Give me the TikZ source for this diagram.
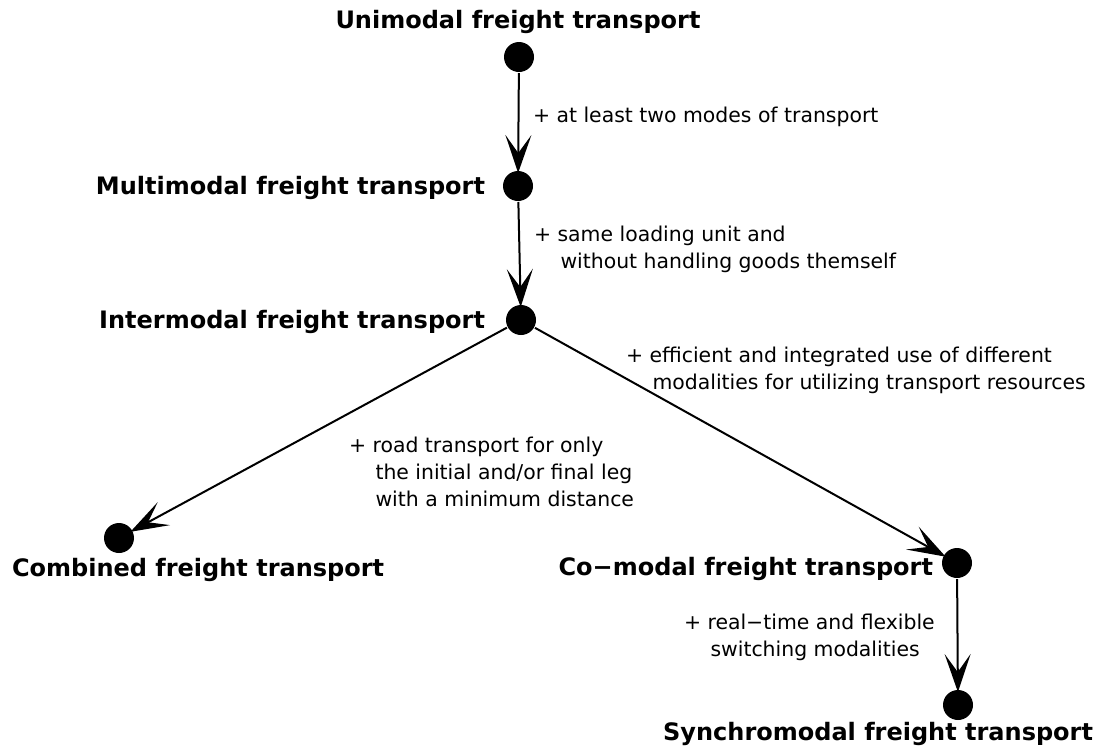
\documentclass[tikz,border=0pt]{standalone}
\usepackage{fontspec}
\setmainfont{DejaVu Sans}
\usetikzlibrary{arrows.meta}

\begin{document}
\begin{tikzpicture}[x=0.5pt, y=-0.5pt, -{Stealth[length=19pt,width=13pt,inset=9pt]}, line width=1pt,
      shorten >=-1.5pt, every node/.append style={inner sep=0pt}]
    \tikzstyle{dot} = [circle,fill=black,minimum size=15pt]
    \tikzstyle{mode} = [font=\fontsize{12}{14}\selectfont\bfseries]
    \tikzstyle{gain} = [font=\fontsize{10.2}{13.4}\selectfont,align=left]
    \useasboundingbox (0,0) rectangle (1105,751);
    % the modes
    \node (uni) [dot] at (519,57) {};
    \node (multi) [dot] at (518,186) {};
    \node (inter) [dot] at (521,320) {};
    \node (comb) [dot] at (119,538) {};
    \node (comod) [dot] at (957,563) {};
    \node (sync) [dot] at (958,705) {};
    \node [mode,anchor=base] (uni_word) at (518,28) {Unimodal freight transport};
    \node [mode,anchor=base east] (multi_word) at (486,194) {Multimodal freight transport};
    \node [mode,anchor=base east] (inter_word) at (486,328) {Intermodal freight transport};
    \node [mode,anchor=base west] (comb_word) at (11,576) {Combined freight transport};
    \node [mode,anchor=base east] (comod_word) at (934,575) {Co−modal freight transport};
    \node [mode,anchor=base east] (sync_word) at (1094,740) {Synchromodal freight transport};
    % the steps between them
    \draw (uni) to (multi);
    \draw (multi) to (inter);
    \draw (inter) to (comb);
    \draw (inter) to (comod);
    \draw (comod) to (sync);
    \node [gain,anchor=base west] (uni_multi) at (532,122) {+ at least two modes of transport};
    \node [gain,anchor=base west] (multi_inter) at (533,268) {+ same loading unit and\\\hspace*{1.3em}without handling goods themself};
    \node [gain,anchor=base west] (inter_comod) at (625,389) {+ efficient and integrated use of different\\\hspace*{1.3em}modalities for utilizing transport resources};
    \node [gain,anchor=base west] (inter_comb) at (348,506) {+ road transport for only\\\hspace*{1.3em}the initial and/or final leg\\\hspace*{1.3em}with a minimum distance};
    \node [gain,anchor=base west] (comod_sync) at (683,656) {+ real−time and flexible\\\hspace*{1.3em}switching modalities};
\end{tikzpicture}
\end{document}
